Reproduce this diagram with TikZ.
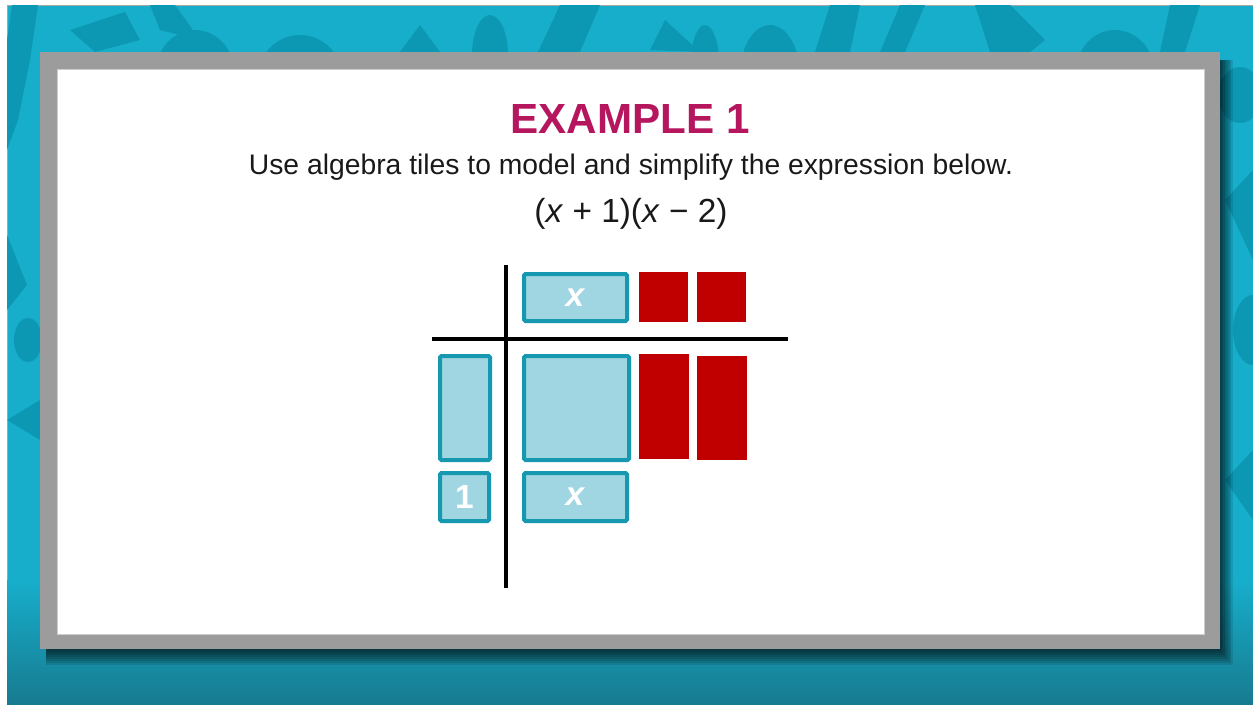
\documentclass[tikz,border=0pt]{standalone}
\usepackage{fontspec}
\setmainfont{Liberation Sans}

\definecolor{bgteal}{HTML}{17AECB}
\definecolor{bgdark}{HTML}{0C98B2}
\definecolor{bgbottom}{HTML}{177B90}
\definecolor{framegray}{HTML}{9B9C9B}
\definecolor{tileteal}{HTML}{1598B0}
\definecolor{tilefill}{HTML}{A0D6E2}
\definecolor{tilered}{HTML}{C00000}
\definecolor{titlecol}{HTML}{B5165E}

\begin{document}
\begin{tikzpicture}[x=0.02cm, y=-0.02cm,
  tile/.style={draw=tileteal, fill=tilefill, line width=0.8mm, rounded corners=0.3mm,
    text=white, font=\fontsize{19}{19}\selectfont\bfseries, inner sep=0pt},
  negtile/.style={fill=tilered, inner sep=0pt},
  axis/.style={line width=0.7mm, black}]
\useasboundingbox (0,0) rectangle (1253,704);
\fill[white] (0,0) rectangle (1253,704);
\fill[bgteal] (7,5) rectangle (1253,704);
\draw[gray!70, line width=0.2mm] (7,704) -- (7,5) -- (1253,5);
% background letters
\fill[bgdark] (12,5) -- (38,5) -- (30,60) -- (18,120) -- (7,150) -- (7,40) -- cycle;
\fill[bgdark] (70,30) -- (125,12) -- (140,40) -- (95,52) -- cycle;
\fill[bgdark] (195,75) ellipse (40 and 45);
\fill[bgdark] (150,5) -- (175,5) -- (200,40) -- (160,30) -- cycle;
\fill[bgdark] (300,85) ellipse (45 and 50);
\fill[bgdark] (400,52) -- (420,25) -- (440,52) -- cycle;
\fill[bgdark] (490,55) ellipse (18 and 40);
\fill[bgdark] (538,52) -- (560,5) -- (600,5) -- (580,52) -- cycle;
\fill[bgdark] (650,50) -- (665,20) -- (700,52) -- cycle;
\fill[bgdark] (705,70) ellipse (15 and 45);
\fill[bgdark] (770,75) ellipse (30 and 50);
\fill[bgdark] (830,5) -- (860,5) -- (850,52) -- (815,52) -- cycle;
\fill[bgdark] (880,52) -- (900,5) -- (925,5) -- (905,52) -- cycle;
\fill[bgdark] (975,5) -- (1010,5) -- (1045,40) -- (1030,52) -- (990,52) -- cycle;
\fill[bgdark] (1115,75) ellipse (40 and 45);
\fill[bgdark] (1170,5) -- (1200,5) -- (1185,52) -- (1160,52) -- cycle;
\fill[bgdark] (1240,95) ellipse (22 and 28);
\fill[bgdark] (1225,200) -- (1253,170) -- (1253,260) -- cycle;
\fill[bgdark] (1253,330) ellipse (20 and 35);
\fill[bgdark] (7,235) -- (27,285) -- (7,310) -- cycle;
\fill[bgdark] (28,340) ellipse (14 and 22);
\fill[bgdark] (7,420) -- (40,400) -- (40,440) -- cycle;
\fill[bgdark] (1225,480) -- (1253,450) -- (1253,520) -- cycle;
\shade[top color=bgteal, bottom color=bgbottom] (7,580) rectangle (1253,704);
% frame with soft shadow
\foreach \d in {2,4,...,16}
  \fill[black, opacity=0.11] (46,60) rectangle (1220+0.8*\d,649+\d);
\fill[framegray] (40,52) rectangle (1220,649);
\fill[white] (57,69) rectangle (1204,634);
\draw[gray!40, line width=0.2mm] (57,69) rectangle (1204,634);

% heading
\node[text=titlecol, font=\fontsize{24}{24}\selectfont\bfseries] (title) at (630,119) {EXAMPLE 1};
\node[text=black!90, font=\fontsize{16.1}{16.1}\selectfont] (task) at (631,167)
  {Use algebra tiles to model and simplify the expression below.};
\node[text=black!90, font=\fontsize{19}{19}\selectfont] (expr) at (631,214)
  {(\textit{x} + 1)(\textit{x} − 2)};

% axes
\coordinate (vtop) at (506,265);
\coordinate (vbot) at (506,588);
\coordinate (hleft) at (432,339);
\coordinate (hright) at (788,339);
\draw[axis] (vtop) -- (vbot);
\draw[axis] (hleft) -- (hright);

% tiles
\node[tile, minimum width=20.6mm, minimum height=9.4mm] (xtop) at (575.5,297.5) {\textit{x}};
\node[negtile, minimum width=9.8mm, minimum height=10mm] (neg1) at (663.5,297) {};
\node[negtile, minimum width=9.8mm, minimum height=10mm] (neg2) at (721.5,297) {};
\node[tile, minimum width=10mm, minimum height=20.8mm] (xleft) at (465,408) {};
\node[tile, minimum width=21mm, minimum height=20.8mm] (xsq) at (576.5,408) {};
\node[negtile, minimum width=10mm, minimum height=21mm] (negx1) at (664,406.5) {};
\node[negtile, minimum width=10mm, minimum height=20.8mm] (negx2) at (722,408) {};
\node[tile, minimum width=9.8mm, minimum height=9.6mm] (one) at (464.5,497) {1};
\node[tile, minimum width=20.6mm, minimum height=9.6mm] (xbot) at (575.5,497) {\textit{x}};
\end{tikzpicture}
\end{document}
